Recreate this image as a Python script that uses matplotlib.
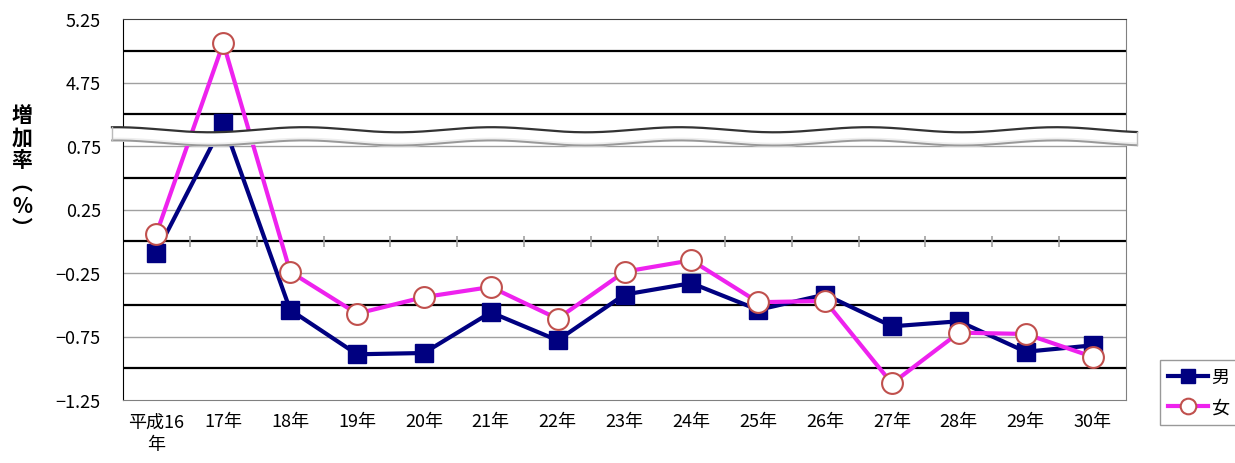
import numpy as np
import matplotlib
matplotlib.use("Agg")
import matplotlib.pyplot as plt
from matplotlib.ticker import FuncFormatter
import matplotlib.transforms as mtransforms

plt.rcParams['font.family'] = ['Noto Sans CJK JP', 'DejaVu Sans']

# data (real values, %)
years = ['平成16\n年', '17年', '18年', '19年', '20年', '21年', '22年', '23年',
         '24年', '25年', '26年', '27年', '28年', '29年', '30年']
male = [-0.09, 4.43, -0.54, -0.89, -0.88, -0.56, -0.78, -0.42,
        -0.33, -0.54, -0.42, -0.67, -0.63, -0.87, -0.82]
female = [0.06, 5.06, -0.24, -0.57, -0.44, -0.36, -0.61, -0.24,
          -0.15, -0.48, -0.47, -1.12, -0.72, -0.73, -0.91]

# broken axis: values above the break are shifted down
offset = 3.5
brk = 2.0


def to_disp(v):
    return [x - offset if x > brk else x for x in v]


def to_real(d):
    return d + offset if d > 0.85 else d


fig = plt.figure(figsize=(12.35, 4.64), dpi=100)
ax = fig.add_axes([123 / 1235, 1 - 401 / 464, 1003 / 1235, 381 / 464])

x = np.arange(len(years))
ax.set_xlim(-0.5, len(years) - 0.5)
ax.set_ylim(-1.25, 1.75)

# grid lines: black on the half steps, gray on the labelled ones
grid = np.arange(-1.0, 1.75, 0.25)
for g in grid:
    if abs((g * 4) % 2 - 1) < 1e-6:
        ax.axhline(g, color='#a0a0a0', lw=1.0, zorder=1)
    else:
        ax.axhline(g, color='black', lw=1.6, zorder=1)

# little ticks between categories on the zero line
bounds = np.arange(0.5, len(years) - 0.5, 1.0)
ax.vlines(bounds, -0.045, 0.045, color='#a0a0a0', lw=1.2, zorder=1)

ax.plot(x, to_disp(male), color='#000080', lw=3, marker='s', ms=13,
        mfc='#000080', mec='#000080', label='男', zorder=3)
ax.plot(x, to_disp(female), color='#ee22ee', lw=3, marker='o', ms=15,
        mfc='white', mec='#c0504d', mew=1.5, label='女', zorder=4)

# wavy break band
trans = mtransforms.blended_transform_factory(ax.transAxes, ax.transData)
xs = np.linspace(-0.011, 1.011, 400)
xpx = 123 + xs * 1003
c = 0.826 + 0.02 * np.cos(2 * np.pi * (xpx - 680) / 188)
top = c + 0.052
bot = c - 0.052
ax.fill_between(xs, bot, top, color='white', transform=trans, zorder=6, clip_on=False)
ax.fill_between(xs, bot, bot + 0.02, color='#eeeeee', transform=trans, zorder=6, clip_on=False)
ax.plot(xs, top, color='#333333', lw=1.6, transform=trans, zorder=7, clip_on=False)
ax.plot(xs, bot, color='#999999', lw=1.4, transform=trans, zorder=7, clip_on=False)
ax.plot([xs[0], xs[0]], [bot[0], top[0]], color='#bbbbbb', lw=1, transform=trans, zorder=7, clip_on=False)
ax.plot([xs[-1], xs[-1]], [bot[-1], top[-1]], color='#bbbbbb', lw=1, transform=trans, zorder=7, clip_on=False)

yt = [-1.25, -0.75, -0.25, 0.25, 0.75, 1.25, 1.75]
ax.set_yticks(yt)
ax.yaxis.set_major_formatter(FuncFormatter(
    lambda d, p: f"{to_real(d):.2f}".replace('-', '\u2212')))
ax.set_xticks(x)
ax.set_xticklabels(years, linespacing=1.3)
ax.tick_params(axis='y', length=0, pad=16, labelsize=13)
ax.tick_params(axis='x', length=0, pad=9, labelsize=13)

for s in ['top', 'right', 'bottom']:
    ax.spines[s].set_color('#808080')
ax.spines['left'].set_color('black')
ax.spines['top'].set_color('#404040')

fig.text(22 / 1235, 1 - 172 / 464, '増\n加\n率\n︵\n%\n︶', ha='center', va='center',
         fontsize=15, fontweight='bold', linespacing=1.1)

ax.legend(loc='upper left', bbox_to_anchor=(1151 / 1235, 1 - 352 / 464),
          bbox_transform=fig.transFigure, fontsize=13, fancybox=False,
          edgecolor='#808080', handlelength=2.2, borderpad=0.45,
          labelspacing=0.7, handletextpad=0.2, markerscale=0.75)

fig.savefig('out.png', dpi=100)
